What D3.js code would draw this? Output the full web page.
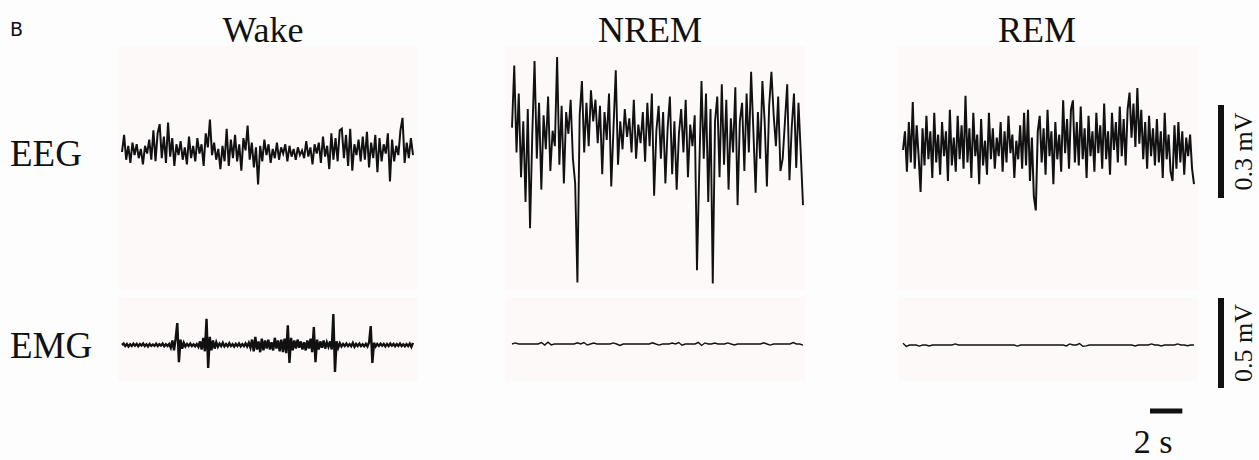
<!DOCTYPE html>
<html>
<head>
<meta charset="utf-8">
<script src="https://cdn.jsdelivr.net/npm/d3@7"></script>
<style>
  body { margin: 0; background: #fdfdfe; }
  text { font-family: "Liberation Serif", "Times New Roman", serif; fill: #111; }
</style>
</head>
<body>
<svg id="drawing_region"></svg>
<script>
// states (columns) and channels (rows)
const states = ["Wake", "NREM", "REM"];
const channels = ["EEG", "EMG"];

// trace length in seconds, samples evenly spread over it
const duration = 18;

// EEG traces, microvolts
const eegWake = [
  0, 55, -25, 20, -35, 30, -10, 25, -20, 10,
  -40, 20, -5, 40, -25, 70, -30, 60, 90, -20,
  50, -35, 95, -15, 45, -45, 25, -10, 35, -25,
  15, -40, 50, -20, 20, -30, 45, -5, 25, -45,
  60, 15, 105, -10, 30, -25, 10, -55, 20, -30,
  75, -45, 40, -20, 55, -30, 25, -60, 45, 5,
  85, -25, 30, -50, 15, -105, 20, -30, 40, -10,
  25, -35, 10, -20, 30, -25, 15, -5, 25, -30,
  20, -15, 10, -25, 15, -10, 5, -20, 35, -15,
  15, -40, 25, -5, 30, -35, 50, -15, 20, -55,
  60, -25, 45, -30, 70, 75, -20, 55, -45, 75,
  -60, 25, -10, 40, -30, 50, -25, 65, -50, 30,
  -20, 55, -65, 45, -30, 25, -5, 60, -95, 40,
  -30, 20, -10, 70, 110, -35, 30, -20, 45, -10
];
const eegNrem = [
  40, 240, -40, 150, -120, 60, -200, 100, -285, 20,
  255, -60, 120, -160, 80, -30, 140, -100, 30, -20,
  268, -80, 110, -140, 90, 20, 130, -60, -140, -460,
  80, 190, -40, 120, -20, 160, 60, 130, -10, 110,
  -110, 90, 0, 150, -150, 40, 225, -80, 60, -30,
  100, 10, 70, -40, 130, -60, 50, -10, 90, -70,
  120, -20, 150, -180, 30, 110, -60, 90, -140, 40,
  140, -110, 60, -160, 20, 100, -40, 130, -120, 50,
  -20, 80, -420, -100, 190, -60, 150, -200, 100, -463,
  60, 140, -120, 180, -80, 130, -160, 70, -40, 170,
  -210, 60, 120, -100, 150, -40, 220, 30, -170, 90,
  -60, 190, 60, -150, 110, 220, 80, -20, 140, -100,
  -60, 60, 180, -130, 40, 150, -90, 120, -40, -210
];
const eegRem = [
  0, 60, -70, 90, -40, 155, -60, 80, -20, -135,
  70, -50, 110, -30, 60, -90, 120, -40, 50, -80,
  90, -20, 60, -100, 130, -50, 40, -70, 110, -30,
  80, -60, 175, -40, 70, -90, 120, -20, 50, -110,
  100, -50, 30, -80, 120, -30, 70, -60, 40, -20,
  90, -70, 60, -40, 110, -10, 50, -90, 30, -30,
  80, -60, 120, -50, 130, -100, 40, -150, -195, 60,
  110, -40, 70, -80, 130, -20, 60, -110, 90, -30,
  50, -70, 160, -10, 100, -60, 130, 160, -40, 90,
  -50, 140, -30, 70, -90, 110, -20, 60, -70, 120,
  -10, 80, -60, 150, -30, 60, -80, 120, 0, 90,
  -40, 140, -20, 100, -50, 130, 185, 40, 150, 10,
  200, 20, 130, -30, 90, -60, 110, -20, 70, -50,
  100, -40, 60, -90, 120, -30, 50, -70, -100, 80,
  -60, 90, -40, 60, -80, 40, -20, 50, -60, -110
];

// EMG traces, microvolts
const emgWake = [
  0, 8, -6, 5, -8, 4, -5, 7, -4, 6,
  -7, 5, -3, 8, -6, 4, -8, 6, -5, 3,
  -4, 7, -6, 5, -3, 8, -7, 4, -5, 6,
  -15, 25, -30, 35, 122, -95, 30, -20, 12, -8,
  6, -5, 8, -6, 4, -7, 5, -10, 20, -25,
  40, -35, 145, -128, 45, -30, 25, -20, 15, -10,
  8, -6, 12, -8, 5, -7, 10, -6, 4, -9,
  6, -5, 8, -7, 5, -6, 9, -8, 12, -15,
  30, -35, 45, -25, 20, -40, 35, -30, 25, -20,
  30, -25, 15, -30, 40, -20, 25, -35, 30, -40,
  35, -45, 110, -100, 40, -30, 25, -20, 30, -15,
  20, -25, 15, -30, 25, -20, 35, -40, 100, -95,
  30, -25, 20, -15, 25, -20, 15, -10, 20, -25,
  172, -150, 20, -15, 10, -8, 6, -5, 8, -6,
  5, -7, 12, -10, 6, -5, 8, -6, 4, -7,
  6, -8, 15, 105, -100, 12, -8, 6, -5, 7,
  -4, 6, -8, 5, -6, 8, -4, 6, -7, 5,
  -5, 8, -6, 4, -7, 5, -6, 8, -10, 12
];
const emgNrem = [
  0, 6, 0, 0, 0, 0, 0, 0, 0, 8,
  -6, 10, -5, 0, 0, 0, 0, 0, 0, 0,
  7, 0, 8, -6, 0, 5, 0, 0, 0, 0,
  0, 6, 0, -8, 0, 0, 0, 0, 0, 0,
  0, 0, 0, 7, 0, -6, 0, 0, 0, 5,
  0, 8, -7, 0, 0, 0, 0, 9, -8, 6,
  0, 0, 5, 0, 0, 0, 6, 0, -5, 0,
  0, 0, 0, 0, 0, 0, 0, 7, 0, -6,
  0, 0, 0, 0, 0, 0, 8, 0, 0, -6
];
const emgRem = [
  10, -8, 0, 0, 0, -6, 0, 0, -5, 0,
  0, 0, 0, 0, 0, 0, 6, 0, 0, 0,
  0, 0, 0, 0, 0, 0, 0, 0, 0, 0,
  0, 0, 0, 0, 0, -6, 0, 0, 0, 0,
  0, 0, 0, 0, 0, 0, 0, 0, 0, 0,
  -5, 6, 0, 0, 8, -7, -5, 0, 0, 0,
  0, 0, 0, 0, 0, 0, 0, 0, 0, 0,
  0, -5, 0, 0, 0, 0, 6, 0, 0, -5,
  0, 0, 0, 0, 6, 0, 0, -4, 0, 0
];

// scale bar values
const eegBar = 300;   // µV
const emgBar = 500;   // µV
const timeBar = 2;    // s
const eegBarLabel = "0.3 mV";
const emgBarLabel = "0.5 mV";
const timeBarLabel = "2 s";

const traces = {
    EEG: [eegWake, eegNrem, eegRem],
    EMG: [emgWake, emgNrem, emgRem]
};

// ---------- layout ----------
const config = {
    width: 1259,
    height: 460,
    colX: [122, 512, 903],
    traceWidth: 291,
    titleX: [263, 650, 1037],
    panel: {
        EEG: { x: [118, 505, 898], y: 46, h: 244 },
        EMG: { x: [118, 505, 898], y: 297, h: 84 }
    },
    panelW: 300,
    baseline: { EEG: [152, 140, 150], EMG: [345, 344, 345] },
    pxPerUnit: { EEG: 93 / 300, EMG: 90 / 500 },
    labelY: { EEG: 166, EMG: 358 },
    strokeW: { EEG: [2, 1.9, 2], EMG: [2.4, 1.4, 1.4] }
};

const svg = d3.select('#drawing_region')
    .attr('width', config.width)
    .attr('height', config.height);

// panel backgrounds
channels.forEach(ch => {
    const p = config.panel[ch];
    svg.selectAll(null)
        .data(p.x)
        .enter()
        .append('rect')
        .attr('x', d => d)
        .attr('y', p.y)
        .attr('width', config.panelW)
        .attr('height', p.h)
        .attr('fill', '#fcf9f8');
});

// traces
channels.forEach(ch => {
    states.forEach((st, i) => {
        const data = traces[ch][i];
        const xscale = d3.scaleLinear()
            .domain([0, duration])
            .range([config.colX[i], config.colX[i] + config.traceWidth]);
        const k = config.pxPerUnit[ch];
        const base = config.baseline[ch][i];
        const yscale = d3.scaleLinear()
            .domain([-500, 500])
            .range([base + 500 * k, base - 500 * k]);
        const dt = duration / (data.length - 1);
        const line = d3.line()
            .x((d, j) => xscale(j * dt))
            .y(d => yscale(d));
        svg.append('path')
            .datum(data)
            .attr('d', line)
            .attr('fill', 'none')
            .attr('stroke', '#111')
            .attr('stroke-width', config.strokeW[ch][i])
            .attr('stroke-linejoin', 'miter');
    });
});

// titles
svg.selectAll('.title')
    .data(states)
    .enter()
    .append('text')
    .attr('class', 'title')
    .attr('x', (d, i) => config.titleX[i])
    .attr('y', 42)
    .attr('text-anchor', 'middle')
    .attr('font-size', 36)
    .text(d => d);

// row labels
svg.selectAll('.rowlabel')
    .data(channels)
    .enter()
    .append('text')
    .attr('class', 'rowlabel')
    .attr('x', 10)
    .attr('y', d => config.labelY[d])
    .attr('font-size', 37)
    .text(d => d);

// panel letter
svg.append('text')
    .attr('x', 10)
    .attr('y', 36)
    .style('font-size', '19px')
    .style('font-family', '"DejaVu Sans", sans-serif')
    .text('B');

// vertical scale bars
const eegBarScale = d3.scaleLinear().domain([0, eegBar]).range([198, 105]);
const emgBarScale = d3.scaleLinear().domain([0, emgBar]).range([388, 298]);
[[eegBarScale, eegBar, eegBarLabel], [emgBarScale, emgBar, emgBarLabel]].forEach(([s, v, lab]) => {
    svg.append('line')
        .attr('x1', 1221).attr('x2', 1221)
        .attr('y1', s(0)).attr('y2', s(v))
        .attr('stroke', '#111')
        .attr('stroke-width', 6);
    const cy = (s(0) + s(v)) / 2;
    svg.append('text')
        .attr('transform', `translate(1252, ${cy}) rotate(-90)`)
        .attr('text-anchor', 'middle')
        .attr('font-size', 26)
        .text(lab);
});

// time bar
const timeScale = d3.scaleLinear().domain([0, duration]).range([0, config.traceWidth]);
svg.append('line')
    .attr('x1', 1150).attr('x2', 1150 + timeScale(timeBar))
    .attr('y1', 411).attr('y2', 411)
    .attr('stroke', '#111')
    .attr('stroke-width', 5);
svg.append('text')
    .attr('x', 1153)
    .attr('y', 453)
    .attr('text-anchor', 'middle')
    .attr('font-size', 34)
    .text(timeBarLabel);
</script>
</body>
</html>
